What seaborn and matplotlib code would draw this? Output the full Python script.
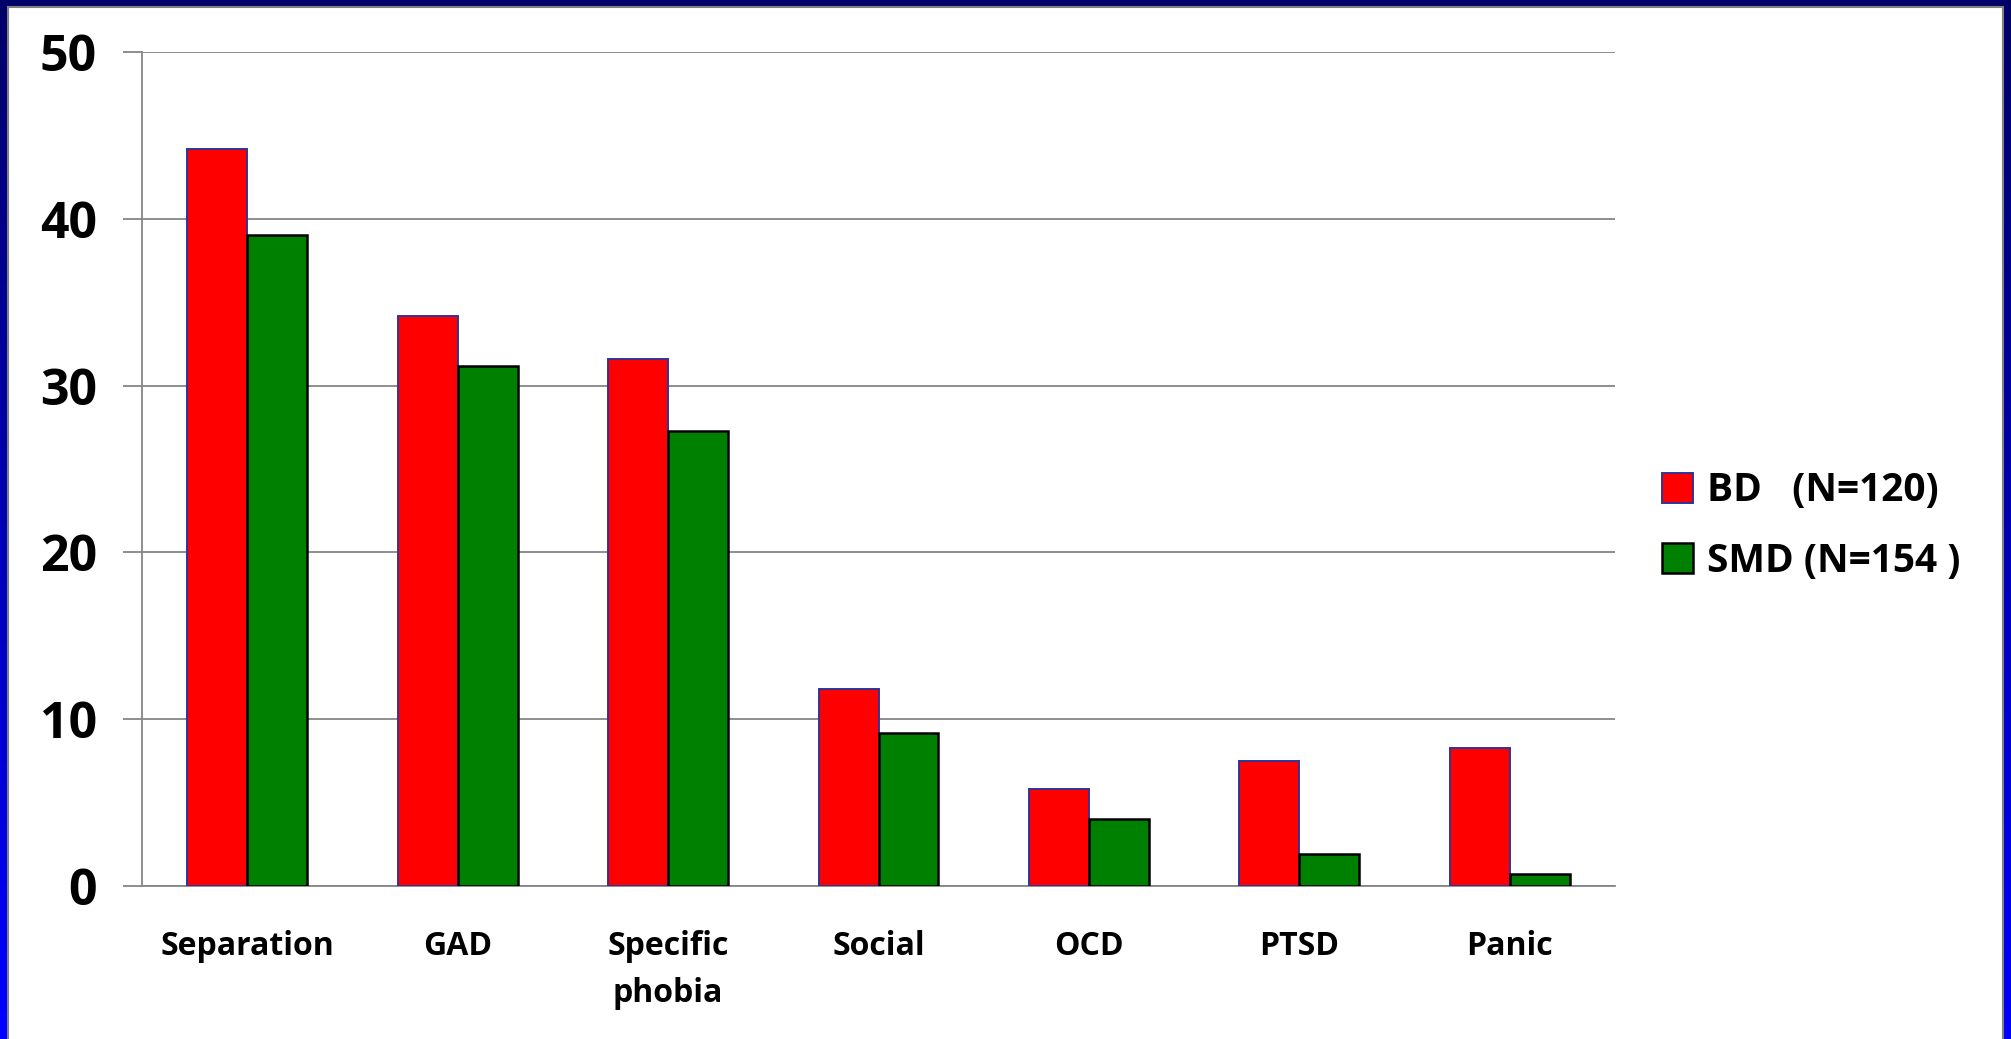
import numpy as np
import pandas as pd
import seaborn as sns
import matplotlib.pyplot as plt
from matplotlib.patches import Rectangle
from matplotlib.colors import LinearSegmentedColormap

# data
disorders = ["Separation", "GAD", "Specific\nphobia", "Social", "OCD", "PTSD", "Panic"]
bd_values = [44.2, 34.2, 31.6, 11.8, 5.8, 7.5, 8.3]
smd_values = [39.0, 31.2, 27.3, 9.2, 4.0, 1.9, 0.7]
groups = ["BD   (N=120)", "SMD (N=154 )"]
y_ticks = [0, 10, 20, 30, 40, 50]

df = pd.DataFrame({
    "disorder": disorders * 2,
    "value": bd_values + smd_values,
    "group": [groups[0]] * len(disorders) + [groups[1]] * len(disorders),
})

sns.set_style("white")
plt.rcParams["font.family"] = ["Open Sans", "DejaVu Sans"]
plt.rcParams["font.weight"] = "bold"
plt.rcParams["text.color"] = "black"
plt.rcParams["xtick.labelcolor"] = "black"
plt.rcParams["ytick.labelcolor"] = "black"

W, H = 2011, 1039
fig = plt.figure(figsize=(W / 100, H / 100), dpi=100)

# blue gradient frame behind a white slide panel
bg = fig.add_axes([0, 0, 1, 1])
bg.set_axis_off()
cmap = LinearSegmentedColormap.from_list("frame", ["#000068", "#0000FF"])
grad = np.linspace(0, 1, 256).reshape(-1, 1)
bg.imshow(grad, aspect="auto", cmap=cmap, extent=[0, 1, 0, 1], origin="upper")
bg.add_patch(Rectangle((8 / W, -0.05), (2003 - 8) / W, 0.05 + (H - 7) / H,
                       facecolor="white", edgecolor="#808080", linewidth=1.5))
bg.set_xlim(0, 1)
bg.set_ylim(0, 1)

ax = fig.add_axes([142 / W, 1 - 886 / H, (1615 - 142) / W, (886 - 52) / H])
ax.set_facecolor("none")
grid_col = "#868686"

sns.barplot(data=df, x="disorder", y="value", hue="group",
            palette=["#FF0000", "#008000"], width=0.57, gap=0,
            saturation=1, ax=ax, zorder=3)

edge_cols = ["#333399", "#000000"]
edge_w = [1.4, 1.8]
for cont, ec, lw in zip(ax.containers, edge_cols, edge_w):
    for bar in cont:
        bar.set_edgecolor(ec)
        bar.set_linewidth(lw)

ax.set_ylim(0, 50)
ax.set_xlim(-0.5, len(disorders) - 0.5)
ax.set_yticks(y_ticks)
ax.set_yticklabels([str(t) for t in y_ticks], fontsize=36, fontweight="bold")
ax.yaxis.grid(True, color=grid_col, linewidth=1.3, zorder=0)
ax.set_axisbelow(True)

ax.set_xticks(range(len(disorders)))
ax.set_xticklabels(disorders, fontsize=23, fontweight="bold", linespacing=1.55)
ax.set_xticks(np.arange(-0.5, len(disorders)), minor=True)
ax.tick_params(axis="x", which="major", length=0, pad=32)
ax.tick_params(axis="x", which="minor", length=9.5, width=1.3, color=grid_col, direction="out")
ax.tick_params(axis="y", length=13.5, width=1.3, color=grid_col, direction="out", pad=19, left=True)
ax.set_xlabel("")
ax.set_ylabel("")

for side in ["top", "right"]:
    ax.spines[side].set_visible(False)
for side in ["left", "bottom"]:
    ax.spines[side].set_color(grid_col)
    ax.spines[side].set_linewidth(1.3)

handles, labels = ax.get_legend_handles_labels()
for h, ec, lw in zip(handles, edge_cols, edge_w):
    h.set_edgecolor(ec)
    h.set_linewidth(lw)
ax.legend(handles, groups, loc="center left", bbox_to_anchor=(1662 / W, 1 - 526 / H),
          bbox_transform=fig.transFigure, frameon=False, prop={"size": 28, "weight": "bold"},
          handlelength=0.8, handleheight=0.78, handletextpad=0.36, labelspacing=0.8,
          borderpad=0, borderaxespad=0, labelcolor="black")

fig.savefig("out.png", dpi=100)
